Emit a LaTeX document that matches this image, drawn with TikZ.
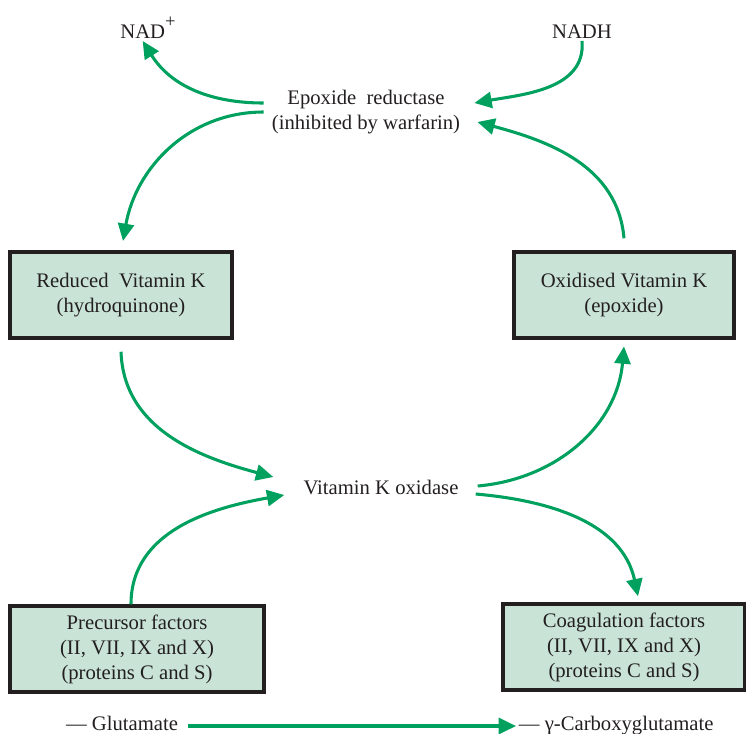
\documentclass[tikz,border=0pt]{standalone}
\usepackage{fontspec}
\setmainfont{Liberation Serif}
\usepackage{tikz}
\usetikzlibrary{arrows.meta}
\definecolor{flowgreen}{HTML}{00A05E}
\definecolor{boxfill}{HTML}{C9E4D6}
\definecolor{ink}{HTML}{231F20}

\begin{document}
\begin{tikzpicture}[x=0.75pt,y=-0.75pt,
    every node/.style={text=ink,font=\fontsize{15.5}{18.75}\selectfont,align=center,inner sep=2pt},
    vkbox/.style={draw=ink,fill=boxfill,line width=2.6pt,minimum height=64.5pt},
    enzyme/.style={inner xsep=6pt},
    flow/.style={flowgreen,line width=2.3pt,-{Triangle[length=13pt,width=12pt]}}]
        \useasboundingbox (0,0) rectangle (746,733);
        \node[anchor=base] (nad) at (148,38) {NAD\raisebox{0.5em}{\fontsize{14}{14}\selectfont +}};
        \node[anchor=base] (nadh) at (582,38) {NADH};
        \node[enzyme] (epox) at (366,112) {Epoxide\ \ reductase\\(inhibited by warfarin)};
        \node[vkbox,minimum width=166.5pt] (red) at (121,295) {Reduced\ \ Vitamin K\\(hydroquinone)};
        \node[vkbox,minimum width=165pt] (oxi) at (624,295) {Oxidised Vitamin K\\(epoxide)};
        \node[enzyme] (oxid) at (381,487) {Vitamin K oxidase};
        \node[vkbox,minimum width=190.5pt] (pre) at (137,649) {Precursor factors\\(II, VII, IX and X)\\(proteins C and S)};
        \node[vkbox,minimum width=181.5pt] (coag) at (624,647) {Coagulation factors\\(II, VII, IX and X)\\(proteins C and S)};
        \node[anchor=base] (glu) at (122,730) {— Glutamate};
        \node[anchor=base west] (carb) at (516,730) {— γ-Carboxyglutamate};
        % reductase side
        \draw[flow] ([yshift=6.75pt]epox.west) to[out=180,in=-58] ([xshift=-4pt]nad.south);
        \draw[flow] (epox.west) to[out=180,in=80] ([xshift=1.5pt,yshift=7pt]red.north);
        \draw[flow] (nadh.south) to[out=-85,in=10] ([xshift=4.5pt,yshift=6.75pt]epox.east);
        \draw[flow] ([yshift=9pt]oxi.north) to[out=95,in=-15] ([xshift=6.75pt,yshift=-7.5pt]epox.east);
        % oxidase side
        \draw[flow] ([yshift=-9pt]red.south) to[out=-88,in=165] ([xshift=-16.5pt,yshift=7.5pt]oxid.west);
        \draw[flow] ([xshift=-4.5pt]pre.north) to[out=90,in=-170] ([xshift=-8.25pt,yshift=-6pt]oxid.west);
        \draw[flow] ([xshift=8.25pt,yshift=0.75pt]oxid.east) to[out=5,in=-95] ([yshift=-5pt]oxi.south);
        \draw[flow] ([xshift=6.75pt,yshift=-5.25pt]oxid.east) to[out=-5,in=102] ([xshift=10.5pt,yshift=4.5pt]coag.north);
        \draw[flow] ([xshift=5.5pt,yshift=3pt]glu.base east) -- ([yshift=3pt]carb.base west);
      \end{tikzpicture}
\end{document}
